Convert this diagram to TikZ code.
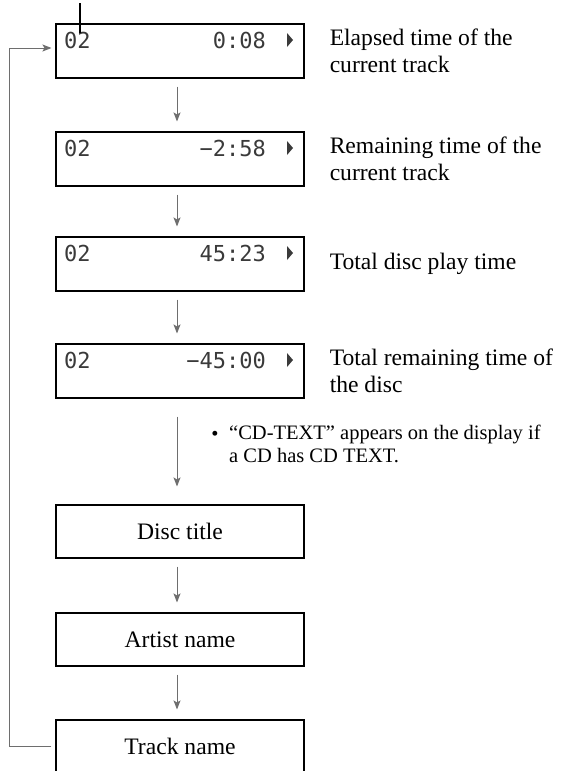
\documentclass[tikz,border=0pt]{standalone}
\usepackage{fontspec}
\setmainfont{Liberation Serif}
\newfontfamily\lcdfont{DejaVu Sans Mono}
\usetikzlibrary{arrows.meta}
\definecolor{lcdgray}{HTML}{3A3A3A}
\definecolor{flowgray}{HTML}{6E6E6E}
\tikzset{
  panel/.style={draw=black, line width=1.1pt, minimum width=248pt, inner sep=0pt},
  lcdtext/.style={font=\lcdfont\fontsize{22}{22}\selectfont, text=lcdgray, inner sep=0pt},
  caption/.style={anchor=west, align=left, inner sep=0pt, font=\fontsize{23.6}{27}\selectfont},
  flow/.style={draw=flowgray, line width=0.9pt, -{Stealth[length=9pt,width=7pt,inset=2pt]}},
}

\begin{document}
\begin{tikzpicture}[x=1pt, y=-1pt]
  \useasboundingbox (0,0) rectangle (564,771);
  \foreach \n/\y/\t/\lab in {1/51/0:08/{Elapsed time of the\\current track},
      2/159/−2:58/{Remaining time of the\\current track},
      3/264/45:23/{Total disc play time},
      4/371/−45:00/{Total remaining time of\\the disc}}{
    \node[panel, minimum height=54pt] (lcd\n) at (180,\y) {};
    \node[lcdtext, anchor=west] (trk\n) at (64,\y-11) {02};
    \node[lcdtext, anchor=east] (time\n) at (266,\y-11) {\t};
    \fill[lcdgray] (287,\y-18) -- (293,\y-11) -- (287,\y-4) -- cycle;
    \node[caption] (cap\n) at ([xshift=25pt]lcd\n.east) {\lab};
  }
  \draw[line width=2pt] (80,3) -- (80,33);
  \node[panel, minimum height=53pt, font=\fontsize{23.6}{27}\selectfont] (disc) at (180,531.5) {Disc title};
  \node[panel, minimum height=53pt, font=\fontsize{23.6}{27}\selectfont] (artist) at (180,639.5) {Artist name};
  \node[panel, minimum height=53pt, font=\fontsize{23.6}{27}\selectfont] (track) at (180,746.5) {Track name};
  \foreach \a/\b in {lcd1/lcd2, lcd2/lcd3, lcd3/lcd4, disc/artist, artist/track}
    \draw[flow, shorten <=8pt, shorten >=10pt] ([xshift=-3pt]\a.south) -- ([xshift=-3pt]\b.north);
  \draw[flow, shorten <=18pt, shorten >=18pt] ([xshift=-3pt]lcd4.south) -- ([xshift=-3pt]disc.north);
  \node[anchor=west, align=left, inner sep=0pt, font=\fontsize{20.5}{23}\selectfont] (note) at (229,443.5)
    {“CD-TEXT” appears on the display if\\a CD has CD TEXT.};
  \node[font=\fontsize{20.5}{23}\selectfont, inner sep=0pt, anchor=base] (bullet) at ([xshift=-14pt]note.base west |- 0,440) {•};
  \draw[flow] ([xshift=-4pt]track.west) -- ++(-42,0) |- ([xshift=-4pt, yshift=3pt]lcd1.west);
\end{tikzpicture}
\end{document}
